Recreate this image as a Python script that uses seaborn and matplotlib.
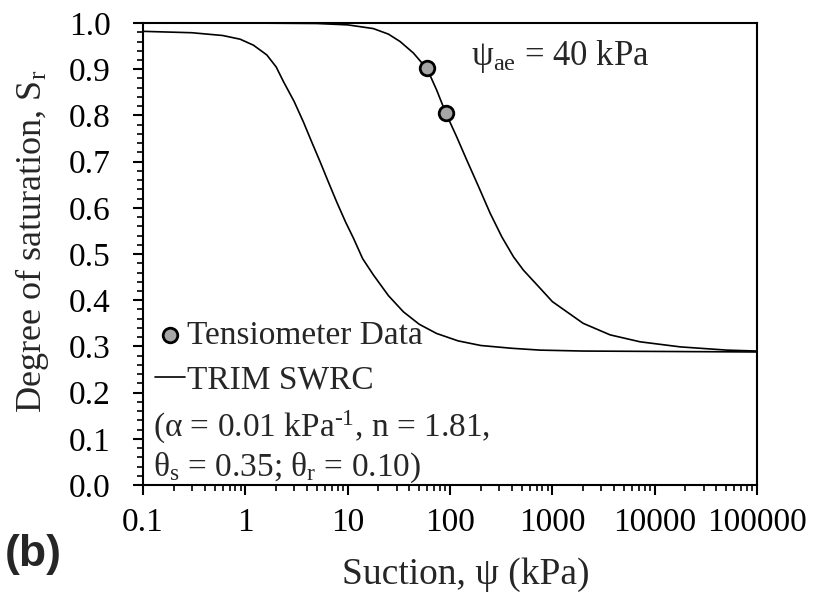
import matplotlib
matplotlib.use("Agg")
import matplotlib.pyplot as plt
import matplotlib.ticker as mticker
import pandas as pd
import seaborn as sns

# Tensiometer readings
tens_suction = [60, 91]
tens_sr = [0.902, 0.806]

# TRIM SWRC fitted curve (right curve, psi_ae = 40 kPa)
trim_suction = [0.1, 1, 5, 10, 17.8, 25, 32.5, 43.9, 60, 74, 91, 116, 146, 190,
                247, 321, 417, 522, 759, 1000, 2000, 3670, 7200, 17800, 50700, 100000]
trim_sr = [1.0, 1.0, 0.999, 0.996, 0.988, 0.976, 0.960, 0.935, 0.900, 0.855, 0.805,
           0.754, 0.703, 0.646, 0.588, 0.537, 0.494, 0.465, 0.426, 0.397, 0.350,
           0.325, 0.310, 0.299, 0.292, 0.290]

# second (left) curve
left_suction = [0.1, 0.3, 0.6, 0.89, 1.2, 1.62, 2.0, 2.36, 3.0, 3.69, 4.5, 5.37, 6.5,
                7.8, 9.5, 11.4, 14, 17.8, 25, 35, 50, 74, 120, 200, 400, 760, 2000,
                100000]
left_sr = [0.982, 0.979, 0.973, 0.965, 0.952, 0.931, 0.905, 0.873, 0.830, 0.786,
           0.740, 0.700, 0.655, 0.613, 0.570, 0.534, 0.490, 0.455, 0.410, 0.375,
           0.348, 0.328, 0.312, 0.302, 0.296, 0.292, 0.290, 0.288]

x_ticks = [0.1, 1, 10, 100, 1000, 10000, 100000]

df_tens = pd.DataFrame({"suction": tens_suction, "sr": tens_sr})
df_trim = pd.DataFrame({"suction": trim_suction, "sr": trim_sr})
df_left = pd.DataFrame({"suction": left_suction, "sr": left_sr})

sns.set_style("ticks")
plt.rcParams["font.family"] = ["Liberation Serif", "DejaVu Serif"]
plt.rcParams["mathtext.fontset"] = "custom"
plt.rcParams["mathtext.rm"] = "Liberation Serif"
plt.rcParams["mathtext.it"] = "Liberation Serif:italic"

fs = 24

fig = plt.figure(figsize=(8.14, 5.92), dpi=100)
ax = fig.add_axes([0.1757, 0.1807, 0.7543, 0.7804])

sns.lineplot(data=df_left, x="suction", y="sr", ax=ax, color="black", lw=1.2,
             sort=False)
sns.lineplot(data=df_trim, x="suction", y="sr", ax=ax, color="black", lw=1.2,
             sort=False, label="TRIM SWRC")
sns.scatterplot(data=df_tens, x="suction", y="sr", ax=ax, s=110, color="#a6a6a6",
                edgecolor="black", linewidth=2, zorder=5, label="Tensiometer Data")

ax.set_xscale("log")
ax.set_xlim(0.1, 100000)
ax.set_ylim(0, 1.0)
ax.set_xticks(x_ticks)
ax.xaxis.set_major_formatter(mticker.FuncFormatter(lambda v, p: f"{v:g}"))
ax.xaxis.set_minor_locator(mticker.LogLocator(base=10, subs=range(2, 10), numticks=20))
ax.xaxis.set_minor_formatter(mticker.NullFormatter())
ax.yaxis.set_major_locator(mticker.MultipleLocator(0.1))
ax.yaxis.set_minor_locator(mticker.MultipleLocator(0.02))
ax.yaxis.set_major_formatter(mticker.FormatStrFormatter("%.1f"))

for s in ax.spines.values():
    s.set_linewidth(1.5)
    s.set_color("black")
ax.tick_params(which="major", direction="out", length=7.5, width=1.5, labelsize=fs,
               colors="black")
ax.tick_params(which="minor", direction="out", length=4.5, width=1.2, colors="black")
ax.tick_params(axis="y", which="major", pad=16)
ax.tick_params(axis="x", which="major", pad=9)

ax.set_xlabel("Suction, ψ (kPa)", fontsize=27)
ax.set_ylabel(r"Degree of saturation, S$_{\mathrm{r}}$", fontsize=26)
ax.xaxis.set_label_coords(0.525, -0.156)
ax.yaxis.set_label_coords(-0.150, 0.528)

handles, labels = ax.get_legend_handles_labels()
order = [labels.index("Tensiometer Data"), labels.index("TRIM SWRC")]
ax.legend([handles[i] for i in order], [labels[i] for i in order],
          loc="upper left", bbox_to_anchor=(0.02, 0.357), frameon=False,
          fontsize=fs, handlelength=0.9, handletextpad=0.05, borderpad=0,
          borderaxespad=0, labelspacing=0.44)

ax.text(0.016, 0.1045, "(α = 0.01 kPa$^{\\mathrm{\u2010}1}$, n = 1.81,",
        transform=ax.transAxes, fontsize=fs, va="baseline", ha="left")
ax.text(0.016, 0.0195, r"θ$_{\mathrm{s}}$ = 0.35; θ$_{\mathrm{r}}$ = 0.10)",
        transform=ax.transAxes, fontsize=fs, va="baseline", ha="left")
ax.text(0.534, 0.909, r"ψ$_{\mathrm{ae}}$ = 40 kPa", transform=ax.transAxes,
        fontsize=25, va="baseline", ha="left")

fig.text(0.006, 0.064, "(b)", fontsize=32, fontweight="bold",
         family=["Liberation Sans", "DejaVu Sans"], va="center", ha="left")

fig.savefig("out.png", dpi=100)
